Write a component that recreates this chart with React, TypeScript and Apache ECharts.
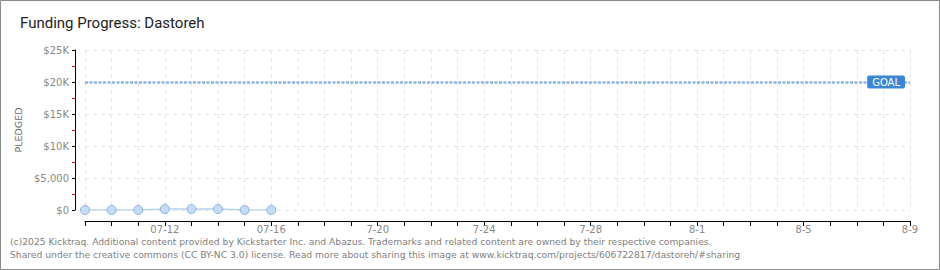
import React, { useEffect, useRef } from "react";
import * as echarts from "echarts";

const categories = [
  "07-09", "07-10", "07-11", "07-12", "07-13", "07-14", "07-15", "07-16",
  "07-17", "07-18", "07-19", "07-20", "07-21", "07-22", "07-23", "07-24",
  "07-25", "07-26", "07-27", "07-28", "07-29", "07-30", "07-31", "08-01",
  "08-02", "08-03", "08-04", "08-05", "08-06", "08-07", "08-08", "08-09",
];
const pledged = [0, 0, 0, 150, 150, 150, 0, 0];
const goal = 20000;
const xTickLabels: Record<number, string> = {
  3: "07-12", 7: "07-16", 11: "7-20", 15: "7-24", 19: "7-28", 23: "8-1", 27: "8-5", 31: "8-9",
};
const yTickLabels: Record<number, string> = {
  0: "$0", 5000: "$5,000", 10000: "$10K", 15000: "$15K", 20000: "$20K", 25000: "$25K",
};
const title = "Funding Progress: Dastoreh";
const footer1 = "(c)2025 Kicktraq. Additional content provided by Kickstarter Inc. and Abazus. Trademarks and related content are owned by their respective companies.";
const footer2 = "Shared under the creative commons (CC BY-NC 3.0) license. Read more about sharing this image at www.kicktraq.com/projects/606722817/dastoreh/#sharing";

export default function App() {
  const ref = useRef<HTMLDivElement>(null);
  useEffect(() => {
    const chart = echarts.init(ref.current!, null, { renderer: "svg" });
    chart.setOption({
      animation: false,
      backgroundColor: "#fff",
      grid: { left: 85, right: 30, top: 50, bottom: 60, containLabel: false },
      graphic: [
        { type: "rect", shape: { x: 0.5, y: 0.5, width: 939, height: 269 }, style: { fill: "none", stroke: "#8a8a8a", lineWidth: 1 }, silent: true },
        { type: "text", left: 20, top: 15, style: { text: title, font: "15px Roboto", fill: "#222" } },
        { type: "text", left: 10, top: 237, style: { text: footer1, font: "9.2px 'DejaVu Sans'", fill: "#808080" } },
        { type: "text", left: 10, top: 250, style: { text: footer2, font: "9.2px 'DejaVu Sans'", fill: "#808080" } },
      ],
      xAxis: {
        type: "category",
        data: categories,
        boundaryGap: false,
        offset: 11,
        axisLine: { onZero: false, lineStyle: { color: "#000", width: 1 } },
        axisTick: { interval: 0, length: 5, lineStyle: { color: "#000" } },
        axisLabel: {
          interval: (i: number) => xTickLabels[i] !== undefined,
          formatter: (_v: string, i: number) => xTickLabels[i] ?? "",
          color: "#888",
          fontFamily: "DejaVu Sans",
          fontSize: 10,
          margin: 3,
        },
        splitLine: { show: true, interval: 0, lineStyle: { color: "#e4e4e4", type: [4, 4] } },
      },
      yAxis: {
        type: "value",
        min: 0,
        max: 25000,
        interval: 5000,
        offset: 10,
        name: "PLEDGED",
        nameLocation: "middle",
        nameGap: 52,
        nameTextStyle: { color: "#666", fontFamily: "DejaVu Sans", fontSize: 9.5 },
        axisLine: { show: true, lineStyle: { color: "#000", width: 1 } },
        axisTick: { show: true, length: 3, lineStyle: { color: "#000" } },
        minorTick: { show: true, splitNumber: 2, length: 3, lineStyle: { color: "#e00" } },
        axisLabel: {
          formatter: (v: number) => yTickLabels[v] ?? "",
          color: "#888",
          fontFamily: "DejaVu Sans",
          fontSize: 10,
          margin: 6,
        },
        splitLine: { show: true, lineStyle: { color: "#e4e4e4", type: [4, 4] } },
      },
      series: [
        {
          type: "line",
          data: pledged,
          symbol: "circle",
          symbolSize: 9,
          lineStyle: { color: "#b8d4f2", width: 1.5 },
          itemStyle: { color: "#c4dcf7", borderColor: "#92b2d8", borderWidth: 1 },
          markLine: {
            silent: true,
            symbol: "none",
            data: [{ yAxis: goal }],
            lineStyle: { color: "#8fb4e2", width: 2.5, type: [3, 1.5] },
            label: {
              show: true,
              position: "insideEnd",
              distance: 5,
              formatter: "GOAL",
              color: "#fff",
              backgroundColor: "#3a87d6",
              padding: [2, 5, 1, 5],
              borderRadius: 2,
              fontFamily: "DejaVu Sans",
              fontSize: 10,
            },
          },
        },
      ],
    });
    return () => chart.dispose();
  }, []);
  return <div ref={ref} style={{ position: "fixed", left: 0, top: 0, width: 940, height: 270 }} />;
}
